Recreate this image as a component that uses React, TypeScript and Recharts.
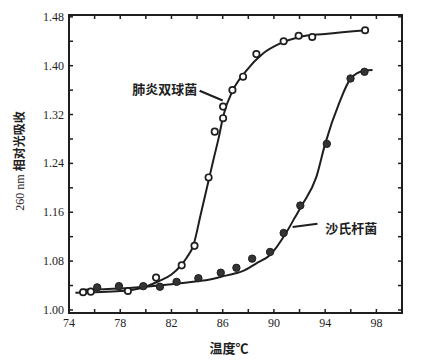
import { ComposedChart, Line, Scatter, XAxis, YAxis, ReferenceLine, ReferenceDot, ReferenceArea } from 'recharts'

// 肺炎双球菌 (open circles)
const pneumoTemp = [75.1, 75.7, 78.6, 80.8, 82.8, 83.8, 84.9, 85.38, 86.03, 86.03, 86.76, 87.59, 88.63, 90.76, 91.93, 92.99, 97.12]
const pneumoAbs = [1.029, 1.030, 1.031, 1.053, 1.073, 1.105, 1.217, 1.292, 1.314, 1.333, 1.36, 1.382, 1.419, 1.44, 1.449, 1.447, 1.458]

// fitted curve as drawn in the figure
const pneumoCurveTemp = [74.5, 76, 78, 79.5, 81, 82, 82.7, 83.2, 83.7, 84.3, 84.9, 85.3, 85.7, 86.05, 86.8, 87.85, 89.15, 90.45, 92, 94, 97.2]
const pneumoCurveAbs = [1.028, 1.029, 1.031, 1.035, 1.047, 1.058, 1.072, 1.086, 1.105, 1.158, 1.212, 1.248, 1.283, 1.318, 1.36, 1.392, 1.42, 1.436, 1.447, 1.452, 1.458]

// 沙氏杆菌 (filled circles)
const shigTemp = [76.2, 77.9, 79.8, 81.1, 82.4, 84.1, 85.85, 87.07, 88.3, 89.7, 90.76, 92.06, 94.13, 95.98, 97.07]
const shigAbs = [1.037, 1.039, 1.039, 1.038, 1.046, 1.052, 1.061, 1.069, 1.084, 1.095, 1.126, 1.171, 1.272, 1.379, 1.39]

const shigCurveTemp = [74.9, 78, 80, 82, 84, 85, 86, 87, 87.6, 88.6, 89.7, 91, 91.6, 92.2, 93.3, 94, 95.1, 96, 97.1, 97.7]
const shigCurveAbs = [1.033, 1.035, 1.038, 1.042, 1.047, 1.05, 1.055, 1.06, 1.064, 1.076, 1.09, 1.128, 1.15, 1.172, 1.217, 1.272, 1.339, 1.379, 1.392, 1.393]

const xTicks = [74, 76, 78, 80, 82, 84, 86, 88, 90, 92, 94, 96, 98, 100]
const xLabels = [74, 78, 82, 86, 90, 94, 98]
const yTicks = [1.00, 1.04, 1.08, 1.12, 1.16, 1.20, 1.24, 1.28, 1.32, 1.36, 1.40, 1.44, 1.48]
const yLabels = [1.00, 1.08, 1.16, 1.24, 1.32, 1.40, 1.48]

const zip = (xs: number[], ys: number[]) => xs.map((x, i) => ({ x, y: ys[i] }))

const pneumoPts = zip(pneumoTemp, pneumoAbs)
const pneumoCurve = zip(pneumoCurveTemp, pneumoCurveAbs)
const shigPts = zip(shigTemp, shigAbs)
const shigCurve = zip(shigCurveTemp, shigCurveAbs)

const ink = '#1e1e1e'
const serif = '"Liberation Serif", "DejaVu Serif", serif'
const cjk = '"Noto Sans CJK SC", sans-serif'
const [xMin, xMax] = [74, 100]
const [yMin, yMax] = [0.995, 1.483]

// tick marks sit on the frame and point inwards
const bottomMarks = xTicks.map(x => ({ x, y: yMin }))
const topMarks = xTicks.map(x => ({ x, y: yMax }))
const leftMarks = yTicks.map(y => ({ x: xMin, y }))
const rightMarks = yTicks.map(y => ({ x: xMax, y }))

const mark = (d: string) => (p: any) => <path d={`M${p.cx},${p.cy}${d}`} stroke={ink} strokeWidth={1.5} fill="none" />

const isY = (v: number) => yLabels.some(l => Math.abs(l - v) < 1e-6)

const BottomTick = ({ x, y, payload }: any) =>
  xLabels.includes(payload.value) ? (
    <text x={x} y={y + 14} textAnchor="middle" fill={ink} fontSize={12} fontFamily={serif}>{payload.value}</text>
  ) : <g />
const LeftTick = ({ x, y, payload }: any) =>
  isY(payload.value) ? (
    <text x={x - 5} y={y + 4} textAnchor="end" fill={ink} fontSize={12} fontFamily={serif}>{payload.value.toFixed(2)}</text>
  ) : <g />

const OpenDot = (p: any) => <circle cx={p.cx} cy={p.cy} r={3.2} fill="#fff" stroke={ink} strokeWidth={1.7} />
const FilledDot = (p: any) => <circle cx={p.cx} cy={p.cy} r={3.7} fill="#333" stroke={ink} strokeWidth={1} />

export default function App() {
  return (
    <div style={{ position: 'absolute', left: 0, top: 0, background: '#fff' }}>
      <ComposedChart width={421} height={364} margin={{ top: 15, right: 19, bottom: 0, left: 0 }}>
        <XAxis
          dataKey="x"
          type="number"
          domain={[xMin, xMax]}
          ticks={xTicks}
          interval={0}
          height={51}
          stroke={ink}
          axisLine={{ stroke: ink, strokeWidth: 2 }}
          tickLine={false}
          tickSize={0}
          tickMargin={0}
          tick={BottomTick}
          label={{
            content: () => (
              <text x={229} y={353} textAnchor="middle" fill={ink} fontSize={13} fontWeight="bold" fontFamily={cjk}>
                温度℃
              </text>
            ),
          }}
        />
        <YAxis
          dataKey="y"
          type="number"
          domain={[yMin, yMax]}
          ticks={yTicks}
          interval={0}
          width={69}
          stroke={ink}
          axisLine={{ stroke: ink, strokeWidth: 2 }}
          tickLine={false}
          tickSize={0}
          tickMargin={0}
          tick={LeftTick}
          label={{
            content: () => (
              <text transform="translate(24,161) rotate(-90)" textAnchor="middle" fill={ink} fontSize={12}>
                <tspan fontFamily={serif}>260 nm </tspan>
                <tspan fontFamily={cjk} fontWeight="bold">相对光吸收</tspan>
              </text>
            ),
          }}
        />

        {/* frame */}
        <ReferenceArea x1={xMin} x2={xMax} y1={yMin} y2={yMax} ifOverflow="visible" fill="none" fillOpacity={0} stroke={ink} strokeWidth={2} />

        {/* inward tick marks */}
        <Scatter data={bottomMarks} dataKey="y" shape={mark('v-4')} isAnimationActive={false} />
        <Scatter data={topMarks} dataKey="y" shape={mark('v4')} isAnimationActive={false} />
        <Scatter data={leftMarks} dataKey="y" shape={mark('h4')} isAnimationActive={false} />
        <Scatter data={rightMarks} dataKey="y" shape={mark('h-4')} isAnimationActive={false} />

        <Line data={pneumoCurve} dataKey="y" type="monotone" stroke={ink} strokeWidth={2} dot={false} isAnimationActive={false} />
        <Line data={shigCurve} dataKey="y" type="monotone" stroke={ink} strokeWidth={2} dot={false} isAnimationActive={false} />
        <Scatter data={pneumoPts} dataKey="y" shape={OpenDot} isAnimationActive={false} />
        <Scatter data={shigPts} dataKey="y" shape={FilledDot} isAnimationActive={false} />

        {/* annotations */}
        <ReferenceLine segment={[{ x: 84.2, y: 1.359 }, { x: 86.0, y: 1.343 }]} stroke={ink} strokeWidth={2} />
        <ReferenceLine segment={[{ x: 91.46, y: 1.136 }, { x: 93.4, y: 1.141 }]} stroke={ink} strokeWidth={2} />
        <ReferenceDot
          x={84.1}
          y={1.361}
          r={0}
          fill="none"
          stroke="none"
          label={{ value: '肺炎双球菌', position: 'left', offset: 1, fill: ink, fontSize: 13, fontWeight: 'bold', fontFamily: cjk }}
        />
        <ReferenceDot
          x={94.0}
          y={1.133}
          r={0}
          fill="none"
          stroke="none"
          label={{ value: '沙氏杆菌', position: 'right', offset: 0, fill: ink, fontSize: 13, fontWeight: 'bold', fontFamily: cjk }}
        />
      </ComposedChart>
    </div>
  )
}
